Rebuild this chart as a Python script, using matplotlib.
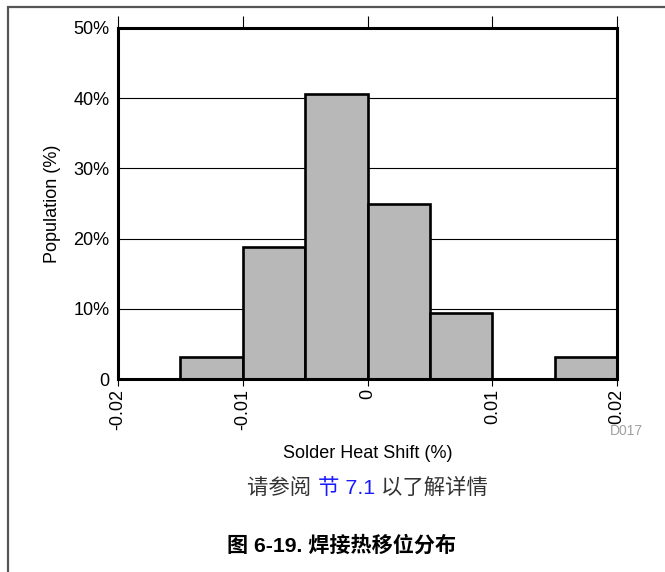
import matplotlib
matplotlib.use('Agg')
import matplotlib.pyplot as plt
from matplotlib.patches import Rectangle
import numpy as np

# bins of the histogram (solder heat shift, %) and population share per bin
bin_edges = [-0.02, -0.015, -0.01, -0.005, 0.0, 0.005, 0.01, 0.015, 0.02]
population = [0.0, 3.125, 18.75, 40.625, 25.0, 9.375, 0.0, 3.125]

x_ticks = [-0.02, -0.01, 0.0, 0.01, 0.02]
x_tick_labels = ['-0.02', '-0.01', '0', '0.01', '0.02']
y_ticks = [0, 10, 20, 30, 40, 50]
y_tick_labels = ['0', '10%', '20%', '30%', '40%', '50%']

plt.rcParams['font.family'] = ['Liberation Sans', 'Noto Sans CJK SC']

W, H = 665, 572
fig = plt.figure(figsize=(W / 100, H / 100), dpi=100)
ax = fig.add_axes([118 / W, 1 - 379 / H, (617 - 118) / W, (379 - 28) / H])

widths = np.diff(bin_edges)
ax.bar(bin_edges[:-1], population, width=widths, align='edge',
       color='#b8b8b8', edgecolor='black', linewidth=1.9, zorder=3)

ax.set_xlim(-0.02, 0.02)
ax.set_ylim(0, 50)
ax.set_yticks(y_ticks)
ax.set_yticklabels(y_tick_labels)
ax.set_xticks(x_ticks)
ax.set_xticklabels(x_tick_labels, rotation=90)

ax.yaxis.grid(True, color='black', linewidth=0.8, zorder=1)
ax.set_axisbelow(True)

for s in ax.spines.values():
    s.set_linewidth(2.2)
    s.set_zorder(4)

ax.tick_params(axis='y', length=0, pad=6, labelsize=13)
ax.tick_params(axis='x', which='major', direction='out', length=5, width=0.8,
               labelsize=13, pad=2, top=True)
# longer ticks on the top edge
for t in ax.xaxis.get_major_ticks():
    t.tick2line.set_markersize(8.5)

ax.set_ylabel('Population (%)', fontsize=13, labelpad=9)
ax.set_xlabel('Solder Heat Shift (%)', fontsize=13, labelpad=11)

fig.text(643 / W, 1 - 431 / H, 'D017', fontsize=10, color='#a0a0a0',
         ha='right', va='center')

# "see section 7.1" line, with the link part in blue
parts = [('请参阅 ', '#333333'), ('节 7.1', '#1a1aff'), (' 以了解详情', '#333333')]
fig.canvas.draw()
r = fig.canvas.get_renderer()
txts = []
for s, c in parts:
    txts.append(fig.text(0, 1 - 488 / H, s, fontsize=15.4, color=c, va='center', ha='left'))
ws = [t.get_window_extent(r).width for t in txts]
x0 = 367.5 - sum(ws) / 2
for t, w in zip(txts, ws):
    t.set_x(x0 / W)
    x0 += w

fig.text(342 / W, 1 - 545 / H, '图 6-19. 焊接热移位分布', fontsize=15.2,
         fontweight='bold', ha='center', va='center')

# page frame (left and top edges only visible)
fig.add_artist(Rectangle((8 / W, -0.1), 2, 1 - 6.5 / H + 0.1,
                         transform=fig.transFigure, fill=False,
                         edgecolor='#555555', linewidth=1.6))

fig.savefig('out.png', dpi=100)
